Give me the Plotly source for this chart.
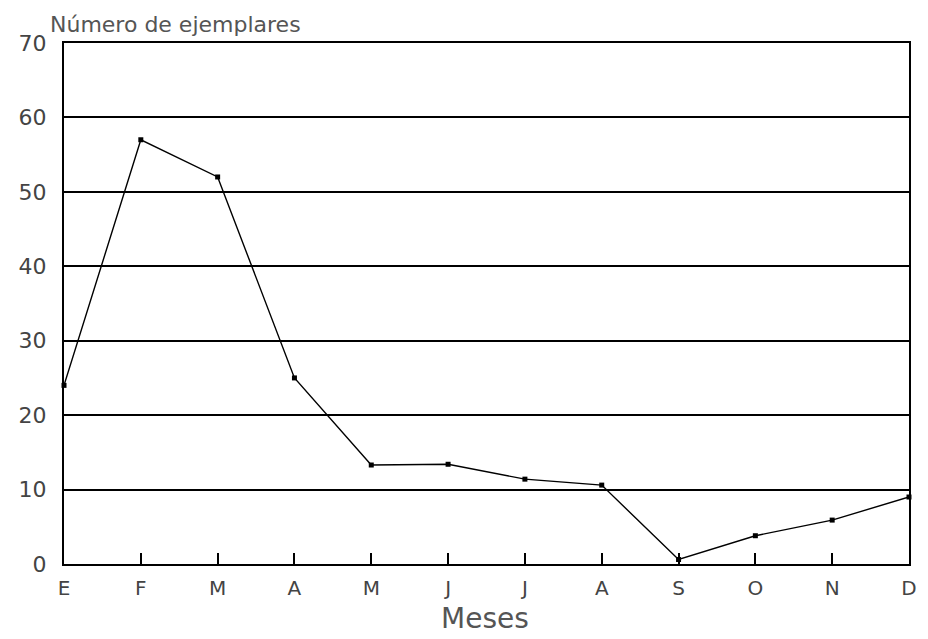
import plotly.graph_objects as go

months = ["E", "F", "M", "A", "M", "J", "J", "A", "S", "O", "N", "D"]
values = [24, 57, 52, 25, 13.3, 13.4, 11.4, 10.6, 0.6, 3.8, 5.9, 9.0]
y_ticks = [0, 10, 20, 30, 40, 50, 60, 70]

x_pos = list(range(len(months)))
font_family = "DejaVu Sans, Liberation Sans, sans-serif"

# page body has an 8px default margin; figure sized to fit the 928x639 window
W, H = 920, 631
ML, MR, MT, MB = 47, 11, 35, 75
plot_w = W - ML - MR
plot_h = H - MT - MB

fig = go.Figure()
fig.add_trace(go.Scatter(
    x=x_pos, y=values, mode="lines+markers",
    line=dict(color="black", width=1.4),
    marker=dict(symbol="square", size=5, color="black"),
    cliponaxis=False, showlegend=False,
))

fig.update_layout(
    width=W, height=H,
    margin=dict(l=ML, r=MR, t=MT, b=MB),
    paper_bgcolor="white", plot_bgcolor="white",
    font=dict(family=font_family, color="#444"),
    title=dict(text="Número de ejemplares", x=42/W, xanchor="left",
               y=1-9/H, yanchor="top",
               font=dict(size=22, color="#555", family=font_family)),
    xaxis=dict(
        range=[0, 11], tickmode="array", tickvals=x_pos, ticktext=months,
        showgrid=False, zeroline=False,
        showline=True, linecolor="black", linewidth=2, mirror=True,
        ticks="inside", ticklen=11, tickwidth=2, tickcolor="black",
        tickfont=dict(size=20, color="#444"), ticklabelstandoff=5,
    ),
    yaxis=dict(
        range=[0, 70], tickmode="array", tickvals=y_ticks,
        showgrid=True, gridcolor="black", gridwidth=2, zeroline=False,
        showline=True, linecolor="black", linewidth=2, mirror=True,
        ticks="", tickfont=dict(size=22, color="#444"), ticklabelstandoff=11,
    ),
    annotations=[dict(text="Meses", xref="paper", yref="paper",
                      x=(476-ML)/plot_w, y=-(629-(H-MB))/plot_h,
                      xanchor="center", yanchor="bottom",
                      showarrow=False, font=dict(size=28, color="#555"))],
)

fig.write_html("out.html")
